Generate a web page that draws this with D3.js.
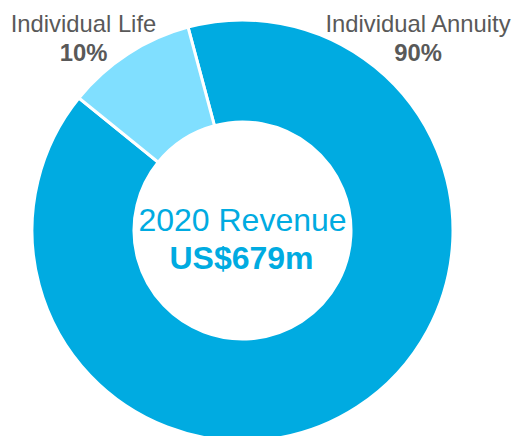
<!DOCTYPE html>
<html>
<head>
<meta charset="utf-8">
<script src="https://cdn.jsdelivr.net/npm/d3@7"></script>
<style>
  html, body { margin: 0; padding: 0; background: #ffffff; }
  svg { display: block; }
</style>
</head>
<body>
<svg id="chart" width="515" height="436"></svg>
<script>
const categories = ["Individual Annuity", "Individual Life"];
const values = [90, 10];
const percentLabels = ["90%", "10%"];
const centerTitle = "2020 Revenue";
const centerValue = "US$679m";

const W = 515, H = 436;
const cx = 242.5, cy = 230.5;
const outerR = 210.5, innerR = 108.5;
const colors = d3.scaleOrdinal().domain(categories).range(["#00ABE1", "#80DFFF"]);
const font = "'Liberation Sans', Arial, sans-serif";

const svg = d3.select("#chart");
const g = svg.append("g").attr("transform", `translate(${cx},${cy})`);

const startDeg = -15;
const pie = d3.pie().sort(null).value(d => d.value)
  .startAngle(startDeg * Math.PI / 180)
  .endAngle((startDeg + 360) * Math.PI / 180);
const arc = d3.arc().innerRadius(innerR).outerRadius(outerR);

const data = categories.map((c, i) => ({ category: c, value: values[i], pct: percentLabels[i] }));

g.selectAll("path.slice").data(pie(data)).enter().append("path")
  .attr("class", "slice")
  .attr("d", arc)
  .attr("fill", d => colors(d.data.category))
  .attr("stroke", "#ffffff")
  .attr("stroke-width", 3)
  .attr("stroke-linejoin", "miter");

// outside labels
const labelPos = {
  "Individual Annuity": { x: 418, y: 31.5 },
  "Individual Life": { x: 83.5, y: 31.5 }
};
const lab = svg.selectAll("g.lab").data(data).enter().append("g").attr("class", "lab")
  .attr("transform", d => `translate(${labelPos[d.category].x},${labelPos[d.category].y})`);
lab.append("text")
  .attr("text-anchor", "middle")
  .attr("font-family", font)
  .attr("font-size", 23.8)
  .attr("fill", "#595959")
  .text(d => d.category);
lab.append("text")
  .attr("y", 29.5)
  .attr("text-anchor", "middle")
  .attr("font-family", font)
  .attr("font-size", 23.8)
  .attr("font-weight", "bold")
  .attr("fill", "#595959")
  .text(d => d.pct);

// centre text
g.append("text")
  .attr("x", 0).attr("y", 0)
  .attr("text-anchor", "middle")
  .attr("font-family", font)
  .attr("font-size", 32)
  .attr("fill", "#00ABE1")
  .text(centerTitle);
g.append("text")
  .attr("x", -1).attr("y", 38)
  .attr("text-anchor", "middle")
  .attr("font-family", font)
  .attr("font-size", 32)
  .attr("font-weight", "bold")
  .attr("fill", "#00ABE1")
  .text(centerValue);
</script>
</body>
</html>
